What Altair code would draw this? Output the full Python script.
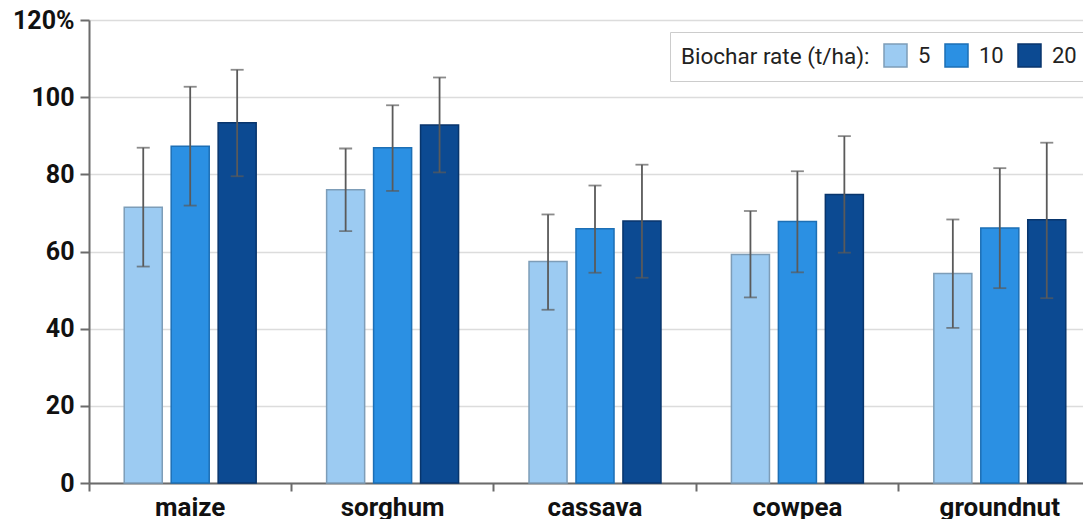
import altair as alt
import pandas as pd

crops = ["maize", "sorghum", "cassava", "cowpea", "groundnut"]
rates = ["5", "10", "20"]

mean_5 = [71.5, 76.0, 57.4, 59.2, 54.3]
mean_10 = [87.3, 86.9, 65.9, 67.8, 66.1]
mean_20 = [93.4, 92.8, 67.9, 74.8, 68.2]

hi_5 = [86.9, 86.7, 69.6, 70.5, 68.3]
lo_5 = [56.1, 65.3, 44.9, 48.1, 40.2]
hi_10 = [102.7, 97.9, 77.1, 80.8, 81.6]
lo_10 = [71.9, 75.7, 54.5, 54.6, 50.5]
hi_20 = [107.1, 105.1, 82.5, 89.9, 88.2]
lo_20 = [79.5, 80.5, 53.2, 59.7, 47.9]

y_ticks = [0, 20, 40, 60, 80, 100, 120]

fill_colors = ["#9ccbf2", "#2b90e3", "#0c4a92"]
stroke_colors = ["#7d9db8", "#1d6fb5", "#08356c"]

means = {"5": mean_5, "10": mean_10, "20": mean_20}
his = {"5": hi_5, "10": hi_10, "20": hi_20}
los = {"5": lo_5, "10": lo_10, "20": lo_20}

rows = []
for r in rates:
    for i, c in enumerate(crops):
        rows.append({"crop": c, "rate": r, "mean": means[r][i], "hi": his[r][i], "lo": los[r][i]})
df = pd.DataFrame(rows)

FONT = "Roboto"

# the band range runs a little past the right edge of the picture, as in the reference
x_scale = alt.Scale(range=[0, 1012], paddingInner=0, paddingOuter=0)

x_enc = alt.X(
    "crop:N",
    sort=crops,
    title=None,
    scale=x_scale,
    axis=alt.Axis(
        labelAngle=0,
        labelFont=FONT,
        labelFontSize=26,
        labelFontWeight="bold",
        labelColor="#111111",
        labelPadding=3,
        tickSize=8,
        tickWidth=2,
        tickColor="#6b6b6b",
        domainColor="#6b6b6b",
        domainWidth=2,
        bandPosition=0,
        grid=False,
    ),
)
xoff_enc = alt.XOffset(
    "rate:N", sort=rates, scale=alt.Scale(paddingInner=0.19, paddingOuter=0.75)
)

y_scale = alt.Scale(domain=[0, 120], nice=False)

bars = alt.Chart(df).mark_bar(strokeWidth=1.5).encode(
    x=x_enc,
    xOffset=xoff_enc,
    y=alt.Y(
        "mean:Q",
        scale=y_scale,
        title=None,
        axis=alt.Axis(
            values=y_ticks,
            labelExpr="datum.value == 120 ? '120%' : datum.label",
            labelFont=FONT,
            labelFontSize=25,
            labelFontWeight="bold",
            labelColor="#111111",
            labelPadding=6,
            tickSize=9,
            tickWidth=2,
            tickColor="#6b6b6b",
            domainColor="#6b6b6b",
            domainWidth=2,
            grid=True,
            gridColor="#dcdcdc",
            gridWidth=1.5,
        ),
    ),
    fill=alt.Fill(
        "rate:N",
        sort=rates,
        scale=alt.Scale(domain=rates, range=fill_colors),
        legend=alt.Legend(
            title="Biochar rate (t/ha):",
            orient="none",
            legendX=581,
            legendY=12,
            direction="horizontal",
            titleOrient="left",
            titleAnchor="middle",
            titleBaseline="middle",
            titleFont=FONT,
            titleFontSize=22.5,
            titleFontWeight="normal",
            titleColor="#222222",
            titlePadding=13,
            titleLimit=400,
            labelFont=FONT,
            labelFontSize=22,
            labelColor="#222222",
            labelLimit=100,
            labelOffset=10,
            columnPadding=11,
            symbolType="square",
            symbolSize=529,
            symbolStrokeWidth=1.5,
            padding=11,
            strokeColor="#cccccc",
            fillColor="#ffffff",
        ),
    ),
    stroke=alt.Stroke(
        "rate:N",
        sort=rates,
        scale=alt.Scale(domain=rates, range=stroke_colors),
        legend=None,
    ),
)

err = alt.Chart(df).mark_rule(color="#5a5a5a", strokeWidth=1.8).encode(
    x=alt.X("crop:N", sort=crops),
    xOffset=alt.XOffset("rate:N", sort=rates),
    y=alt.Y("lo:Q", scale=y_scale),
    y2="hi:Q",
)

cap_hi = alt.Chart(df).mark_tick(color="#5a5a5a", thickness=1.8, size=13).encode(
    x=alt.X("crop:N", sort=crops),
    xOffset=alt.XOffset("rate:N", sort=rates),
    y=alt.Y("hi:Q", scale=y_scale),
)
cap_lo = alt.Chart(df).mark_tick(color="#5a5a5a", thickness=1.8, size=13).encode(
    x=alt.X("crop:N", sort=crops),
    xOffset=alt.XOffset("rate:N", sort=rates),
    y=alt.Y("lo:Q", scale=y_scale),
)

chart = (
    alt.layer(bars, err, cap_hi, cap_lo)
    .properties(
        width=994,
        height=463,
        autosize=alt.AutoSizeParams(type="none"),
        padding={"left": 81, "top": 12, "right": 0, "bottom": 36},
        background="#ffffff",
    )
    .configure_view(stroke=None)
)

chart.save("out.html", embed_options={"renderer": "svg", "actions": False})
